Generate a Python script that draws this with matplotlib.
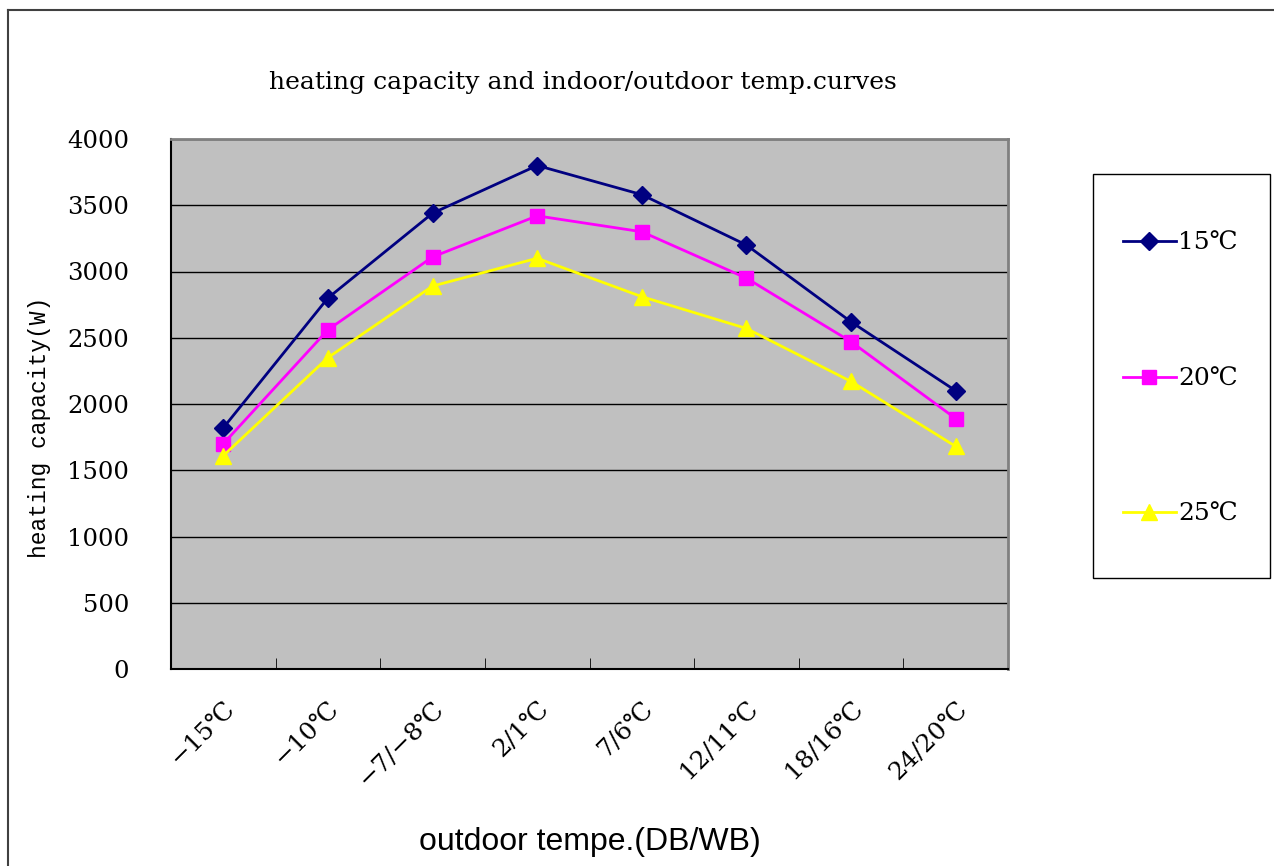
import matplotlib
matplotlib.use('Agg')
import matplotlib.pyplot as plt
from matplotlib.lines import Line2D
from matplotlib.patches import Rectangle

# categories and series values
categories = ['−15℃', '−10℃', '−7/−8℃', '2/1℃', '7/6℃', '12/11℃', '18/16℃', '24/20℃']
cap_15 = [1820, 2800, 3440, 3800, 3580, 3200, 2620, 2100]
cap_20 = [1700, 2560, 3110, 3420, 3300, 2950, 2470, 1890]
cap_25 = [1610, 2350, 2890, 3100, 2810, 2570, 2170, 1680]
series_names = ['15℃', '20℃', '25℃']
y_ticks = [0, 500, 1000, 1500, 2000, 2500, 3000, 3500, 4000]

serif = ['DejaVu Serif', 'Noto Sans CJK SC']

fig = plt.figure(figsize=(12.74, 8.66), dpi=100)
ax = fig.add_axes([171/1274, 1 - 669/866, 837/1274, 530/866])
ax.set_facecolor('#c0c0c0')

x = list(range(len(categories)))
ax.plot(x, cap_15, color='#000080', marker='D', markersize=9, linewidth=2, label=series_names[0])
ax.plot(x, cap_20, color='#ff00ff', marker='s', markersize=10, linewidth=2, label=series_names[1])
ax.plot(x, cap_25, color='#ffff00', marker='^', markersize=11, linewidth=2, label=series_names[2])

ax.set_xlim(-0.5, len(categories) - 0.5)
ax.set_ylim(0, 4000)
ax.set_yticks(y_ticks)
ax.set_yticklabels([str(v) for v in y_ticks], family=serif, fontsize=17.5)
ax.grid(axis='y', color='black', linewidth=1)
ax.set_axisbelow(True)

# category labels at centers, tick marks at boundaries
ax.set_xticks(x)
ax.set_xticklabels(categories, family=serif, fontsize=18, rotation=45,
                   ha='right', va='top', rotation_mode='anchor')
ax.tick_params(axis='x', length=0, pad=20)
ax.set_xticks([i + 0.5 for i in x[:-1]], minor=True)
ax.tick_params(axis='x', which='minor', direction='in', length=8, color='black')
ax.tick_params(axis='y', length=0, pad=30)

for side in ['left', 'bottom']:
    ax.spines[side].set_color('black')
    ax.spines[side].set_linewidth(1.5)
for side in ['top', 'right']:
    ax.spines[side].set_color('#808080')
    ax.spines[side].set_linewidth(2)

fig.text(583/1274, 1 - 82/866, 'heating capacity and indoor/outdoor temp.curves',
         family='DejaVu Serif', fontsize=18, ha='center', va='center')
fig.text(40/1274, 1 - 427/866, 'heating capacity(W)', family='Liberation Mono',
         fontsize=16.5, rotation=90, ha='center', va='center')
fig.text(590/1274, 1 - 842/866, 'outdoor tempe.(DB/WB)', family='Liberation Sans',
         fontsize=23, ha='center', va='center')

# legend box drawn separately, entries placed inside it
fig.add_artist(Rectangle((1093/1274, 1 - 578/866), 177/1274, 404/866, transform=fig.transFigure,
                         facecolor='white', edgecolor='black', linewidth=1))
handles = [Line2D([], [], color='#000080', marker='D', markersize=9, linewidth=2),
           Line2D([], [], color='#ff00ff', marker='s', markersize=10, linewidth=2),
           Line2D([], [], color='#ffff00', marker='^', markersize=11, linewidth=2)]
leg = fig.legend(handles, series_names, loc='upper left',
                 bbox_to_anchor=(1123/1274, 1 - 232/866), prop={'family': serif, 'size': 18},
                 frameon=False, labelspacing=4.5, borderpad=0, handlelength=2.1,
                 handletextpad=0.1, borderaxespad=0)

# outer chart border
fig.add_artist(Line2D([8/1274, 8/1274], [0, 1 - 10/866], color='#404040', linewidth=1.5))
fig.add_artist(Line2D([8/1274, 1], [1 - 10/866, 1 - 10/866], color='#404040', linewidth=1.5))

fig.savefig('out.png', dpi=100)
